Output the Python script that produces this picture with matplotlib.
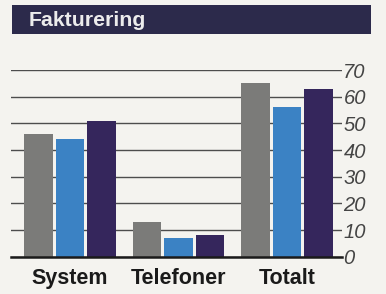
import numpy as np
import matplotlib.pyplot as plt
from matplotlib.patches import Rectangle

categories = ["System", "Telefoner", "Totalt"]
gray_vals = [46, 13, 65]
blue_vals = [44, 7, 56]
purple_vals = [51, 8, 63]
yticks = [0, 10, 20, 30, 40, 50, 60, 70]
title = "Fakturering"

bg = "#f4f3ef"
colors = ["#7b7b79", "#3b82c4", "#35265c"]

plt.rcParams["font.family"] = ["Liberation Sans", "DejaVu Sans"]

fig = plt.figure(figsize=(3.86, 2.94), dpi=100, facecolor=bg)

# title band
fig.patches.append(Rectangle((12 / 386, 1 - 34 / 294), (371 - 12) / 386, 29 / 294,
                             transform=fig.transFigure, facecolor="#2c2a4b",
                             edgecolor="none"))
fig.text(29 / 386, 1 - 20 / 294, title, color="#ececec", fontsize=15.3,
         fontweight="bold", va="center", ha="left")

ax = fig.add_axes([11 / 386, 1 - 256.7 / 294, (342 - 11) / 386, (256.7 - 70) / 294])
ax.set_facecolor(bg)

x = np.arange(len(categories))
step = 0.29
w = 0.265
for i, vals in enumerate([gray_vals, blue_vals, purple_vals]):
    ax.bar(x + (i - 1) * step, vals, width=w, color=colors[i], zorder=3)

ax.set_xlim(-0.544, 2.507)
ax.set_ylim(0, 70)
ax.set_yticks(yticks)
ax.yaxis.tick_right()
ax.tick_params(axis="y", length=0, pad=1, labelsize=14.5, labelcolor="#444444")
for lab in ax.get_yticklabels():
    lab.set_fontstyle("italic")
ax.yaxis.grid(True, color="#4d4d4d", linewidth=1.0, zorder=1)

ax.set_xticks(x)
ax.set_xticklabels(categories, fontsize=15.5, fontweight="bold", color="#1a1a1a")
ax.tick_params(axis="x", length=0, pad=8)

for s in ["top", "left", "right"]:
    ax.spines[s].set_visible(False)
ax.spines["bottom"].set_color("#1a1a1a")
ax.spines["bottom"].set_linewidth(1.8)
ax.spines["bottom"].set_zorder(4)

fig.savefig("out.png", dpi=100, facecolor=bg)
